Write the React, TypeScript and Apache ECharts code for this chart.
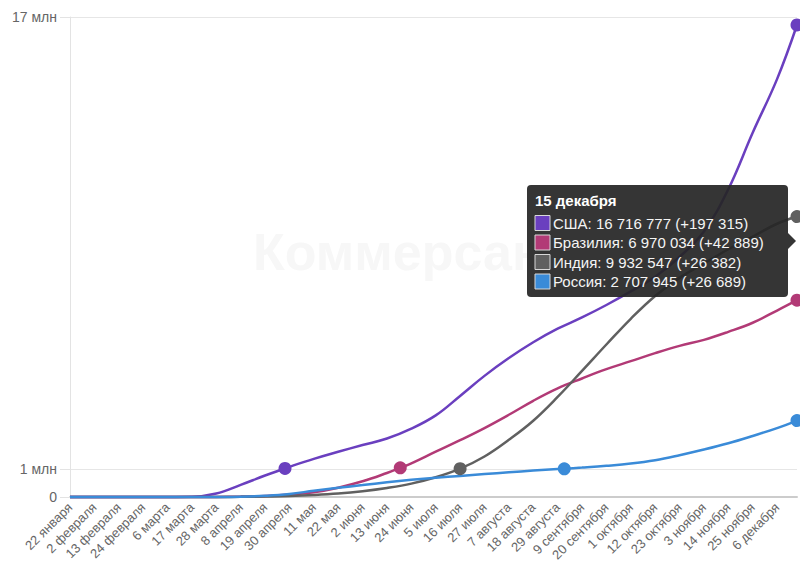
import { useEffect, useRef } from 'react';
import * as echarts from 'echarts';

// Tick labels on the x axis (every 11 days from 22 January)
const tickLabels = [
  '22 января', '2 февраля', '13 февраля', '24 февраля', '6 марта', '17 марта',
  '28 марта', '8 апреля', '19 апреля', '30 апреля', '11 мая', '22 мая',
  '2 июня', '13 июня', '24 июня', '5 июля', '16 июля', '27 июля',
  '7 августа', '18 августа', '29 августа', '9 сентября', '20 сентября', '1 октября',
  '12 октября', '23 октября', '3 ноября', '14 ноября', '25 ноября', '6 декабря',
];

// Day offsets from 22 January of the sampled values (last = 15 декабря)
const days = [
  0, 11, 22, 33, 44, 55, 66, 77, 88, 99, 110, 121, 132, 143, 154, 165,
  176, 187, 198, 209, 220, 231, 242, 253, 264, 275, 286, 297, 308, 319, 328,
];

const usa = [
  1, 8, 15, 51, 319, 6400, 121000, 430000, 760000, 1070000, 1350000, 1600000,
  1840000, 2070000, 2420000, 2890000, 3580000, 4290000, 4920000, 5480000, 5960000,
  6360000, 6800000, 7280000, 7800000, 8500000, 9400000, 10900000, 12900000, 14800000, 16716777,
];
const brazil = [
  0, 0, 0, 1, 13, 291, 3904, 16188, 38654, 87187, 169594, 330890,
  555383, 850514, 1188631, 1603055, 2012151, 2442375, 2912212, 3407354, 3846153,
  4197889, 4528240, 4810935, 5094979, 5353656, 5566049, 5848959, 6171376, 6603540, 6970034,
];
const india = [
  0, 0, 3, 3, 31, 142, 987, 5916, 17615, 34863, 70756, 124794,
  207615, 320922, 473105, 697413, 1003832, 1435453, 2027074, 2702681, 3542733,
  4465863, 5400619, 6312584, 7120538, 7761312, 8267623, 8773479, 9222216, 9677203, 9932547,
];
const russia = [
  0, 0, 0, 2, 4, 114, 1264, 8672, 42853, 106498, 221344, 326448,
  423186, 520129, 606881, 680283, 746369, 812485, 877135, 935066, 987470,
  1041007, 1105048, 1185231, 1305093, 1480646, 1680579, 1903253, 2162503, 2439163, 2707945,
];

const seriesNames = ['США', 'Бразилия', 'Индия', 'Россия'];
const seriesValues = [usa, brazil, india, russia];
const seriesColors = ['#6a3fbf', '#b23a76', '#606060', '#3a8bd8'];
// Day each country passed 1 млн, and its total that day
const milestoneDays = [97, 149, 176, 223];
const milestoneValues = [1010000, 1032000, 1003832, 1000048];
const dailyIncrease = [197315, 42889, 26382, 26689];
const tooltipDate = '15 декабря';

const yTickValues = [0, 1000000, 17000000];
const yTickLabels = ['0', '1 млн', '17 млн'];

const FONT = 'Arial, "Liberation Sans", sans-serif';

const fmt = (n: number) => String(n).replace(/\B(?=(\d{3})+(?!\d))/g, ' ');

function buildData(values: number[], mDay: number, mVal: number) {
  const pts = days.map((d, i) => ({ v: [d, values[i]] as [number, number], mark: false }));
  const idx = pts.findIndex((p) => p.v[0] === mDay);
  if (idx >= 0) pts[idx].mark = true;
  else pts.push({ v: [mDay, mVal], mark: true });
  pts.sort((a, b) => a.v[0] - b.v[0]);
  pts[pts.length - 1].mark = true;
  return pts.map((p) =>
    p.mark
      ? { value: p.v, symbol: 'circle', symbolSize: 13 }
      : { value: p.v, symbol: 'none' }
  );
}

export default function App() {
  const ref = useRef<HTMLDivElement>(null);
  useEffect(() => {
    if (!ref.current) return;
    const chart = echarts.init(ref.current, null, { renderer: 'svg' });

    const TZ = 100;
    const rowY0 = 223;
    const rowStep = 19.5;
    const tipElements: any[] = [
      {
        type: 'rect',
        z: TZ,
        shape: { x: 527, y: 185, width: 261, height: 112, r: 4 },
        style: { fill: 'rgba(38,38,38,0.93)' },
      },
      {
        type: 'polygon',
        z: TZ,
        shape: { points: [[788, 233], [796, 241], [788, 249]] },
        style: { fill: 'rgba(38,38,38,0.93)' },
      },
      {
        type: 'text',
        z: TZ + 1,
        x: 535,
        y: 200,
        style: {
          text: tooltipDate,
          fill: '#ffffff',
          fontSize: 15,
          fontWeight: 'bold',
          fontFamily: FONT,
          verticalAlign: 'middle',
        },
      },
    ];
    seriesNames.forEach((name, i) => {
      const y = rowY0 + i * rowStep;
      const vals = seriesValues[i];
      tipElements.push({
        type: 'rect',
        z: TZ + 1,
        shape: { x: 535, y: y - 7.5, width: 15, height: 15 },
        style: { fill: seriesColors[i], stroke: '#d8d8d8', lineWidth: 1 },
      });
      tipElements.push({
        type: 'text',
        z: TZ + 1,
        x: 553,
        y,
        style: {
          text: `${name}: ${fmt(vals[vals.length - 1])} (+${fmt(dailyIncrease[i])})`,
          fill: '#f4f4f4',
          fontSize: 15,
          fontFamily: FONT,
          verticalAlign: 'middle',
        },
      });
    });

    chart.setOption({
      animation: false,
      backgroundColor: '#ffffff',
      textStyle: { fontFamily: FONT },
      grid: { left: 70, right: 3, top: 17, bottom: 71, containLabel: false, outerBoundsMode: 'none' },
      xAxis: {
        type: 'value',
        min: 0,
        max: days[days.length - 1],
        interval: 11,
        axisLine: { show: true, onZero: false, lineStyle: { color: '#cccccc', width: 2 } },
        axisTick: { show: false },
        splitLine: { show: false },
        axisLabel: {
          rotate: 45,
          color: '#666666',
          fontSize: 13,
          margin: 8,
          showMaxLabel: false,
          formatter: (v: number) => {
            const i = v / 11;
            return Number.isInteger(i) && tickLabels[i] ? tickLabels[i] : '';
          },
        },
      },
      yAxis: {
        type: 'value',
        min: 0,
        max: 17000000,
        axisLine: { show: true, lineStyle: { color: '#e3e3e3' } },
        axisTick: { show: true, customValues: yTickValues, length: 10, lineStyle: { color: '#e3e3e3' } },
        axisLabel: {
          customValues: yTickValues,
          color: '#666666',
          fontSize: 14,
          margin: 13,
          formatter: (v: number) => {
            const i = yTickValues.indexOf(v);
            return i >= 0 ? yTickLabels[i] : '';
          },
        },
        splitLine: { show: true, lineStyle: { color: '#e6e6e6' } },
      },
      graphic: [
        {
          type: 'text',
          x: 253,
          y: 252,
          z: 0,
          style: {
            text: 'Коммерсантъ',
            fill: '#f7f7f7',
            fontSize: 52,
            fontWeight: 'bold',
            fontFamily: FONT,
            verticalAlign: 'middle',
          },
        },
        { type: 'group', z: TZ, children: tipElements },
      ],
      series: seriesNames.map((name, i) => ({
        name,
        type: 'line',
        smooth: 0.4,
        showSymbol: true,
        clip: false,
        data: buildData(seriesValues[i], milestoneDays[i], milestoneValues[i]),
        lineStyle: { color: seriesColors[i], width: 2.5 },
        itemStyle: { color: seriesColors[i], borderWidth: 0 },
        emphasis: { disabled: true },
      })),
    });
    return () => chart.dispose();
  }, []);

  return (
    <div
      ref={ref}
      style={{ position: 'fixed', left: 0, top: 0, width: 800, height: 568, background: '#fff' }}
    />
  );
}
